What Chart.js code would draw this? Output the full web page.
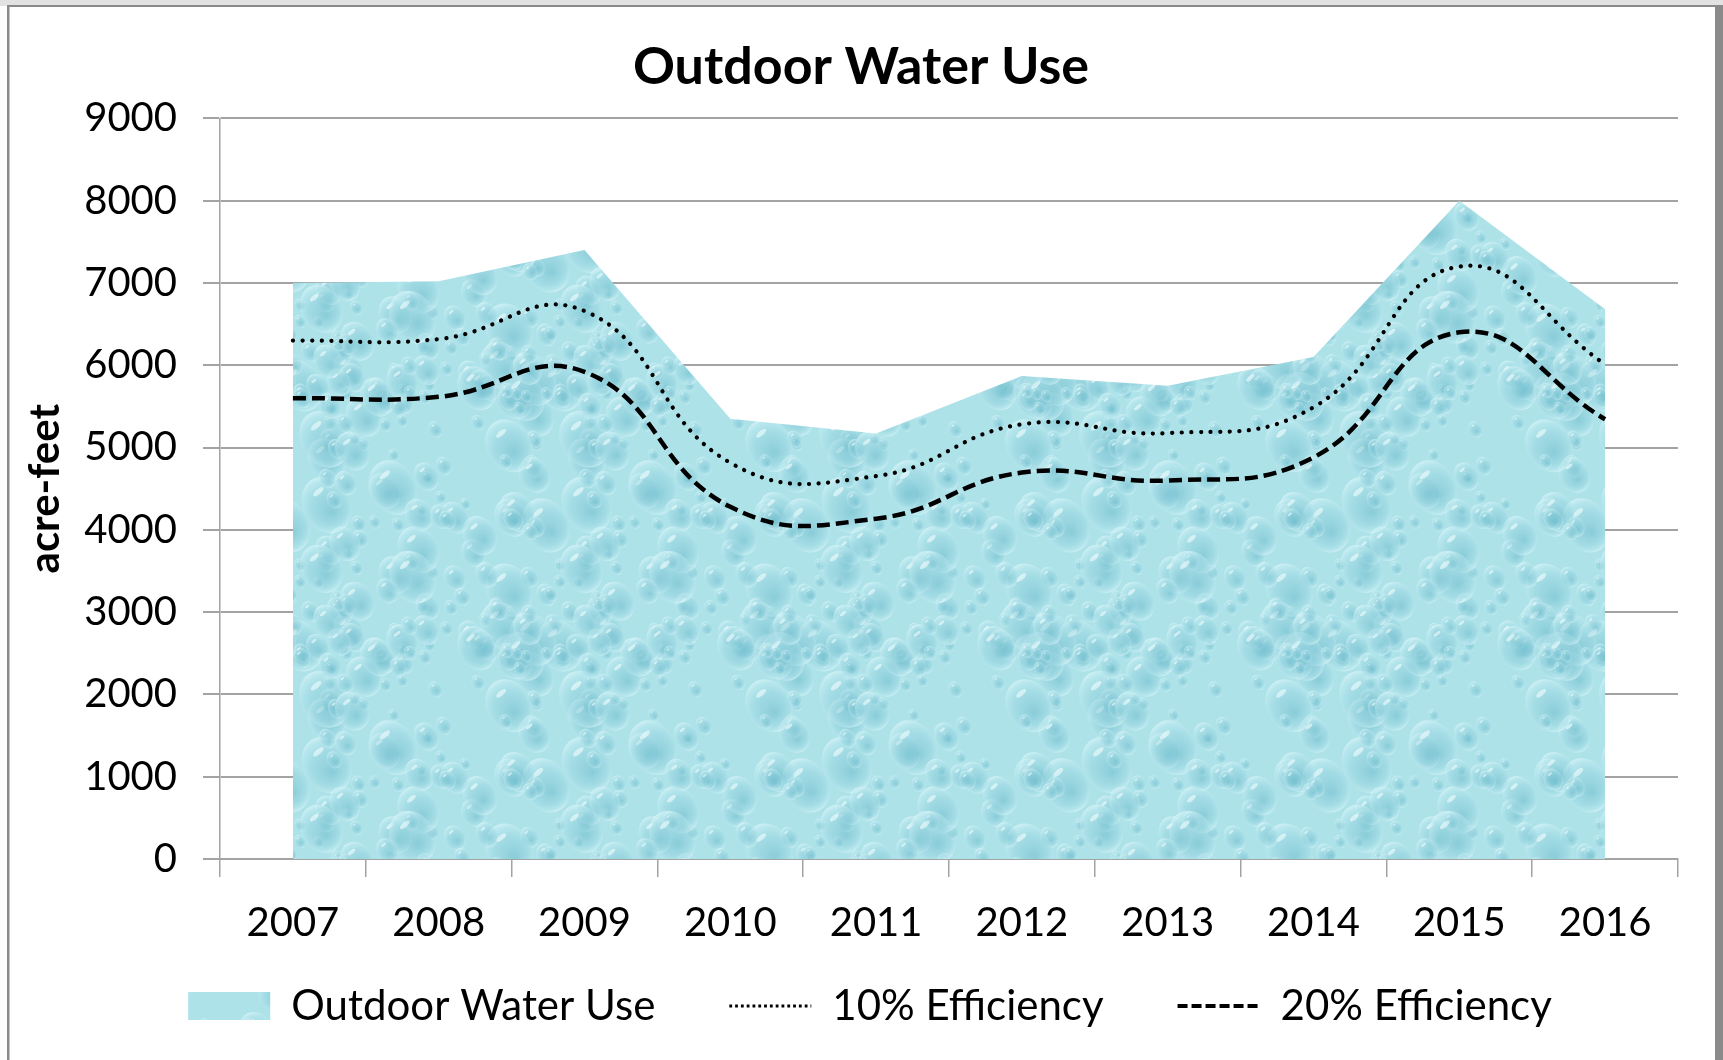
<!DOCTYPE html>
<html>
<head>
<meta charset="utf-8">
<script src="https://cdn.jsdelivr.net/npm/chart.js@4.4.1/dist/chart.umd.min.js"></script>
<style>
  html, body { margin: 0; padding: 0; background: #ffffff; }
  #wrap { width: 1723px; height: 1060px; position: relative; }
</style>
</head>
<body>
<div id="wrap"><canvas id="chart"></canvas></div>
<script>
// ---- data ----
const years = ['2007', '2008', '2009', '2010', '2011', '2012', '2013', '2014', '2015', '2016'];
const outdoorWaterUse = [7000, 7020, 7400, 5350, 5170, 5870, 5750, 6100, 8000, 6680];
const efficiency10 = [6300, 6318, 6660, 4815, 4653, 5283, 5175, 5490, 7200, 6012];
const efficiency20 = [5600, 5616, 5920, 4280, 4136, 4696, 4600, 4880, 6400, 5344];
const yTickValues = [0, 1000, 2000, 3000, 4000, 5000, 6000, 7000, 8000, 9000];
const seriesNames = ['Outdoor Water Use', '10% Efficiency', '20% Efficiency'];
const chartTitle = 'Outdoor Water Use';
const yAxisTitle = 'acre-feet';

// ---- decorative water-drop texture (fill pattern) ----
function drawDrop(g, x, y, r) {
  const grad = g.createRadialGradient(x + r * 0.2, y + r * 0.25, r * 0.05, x, y, r);
  grad.addColorStop(0, 'rgba(105,185,202,0.50)');
  grad.addColorStop(0.55, 'rgba(140,205,218,0.35)');
  grad.addColorStop(0.85, 'rgba(195,236,242,0.40)');
  grad.addColorStop(1, 'rgba(228,249,251,0.65)');
  g.fillStyle = grad;
  g.beginPath();
  g.ellipse(x, y, r * 0.8, r, -0.5, 0, Math.PI * 2);
  g.fill();
  g.fillStyle = 'rgba(242,253,254,0.6)';
  g.beginPath();
  g.ellipse(x - r * 0.28, y - r * 0.45, r * 0.22, r * 0.09, -0.7, 0, Math.PI * 2);
  g.fill();
}
function makeWaterPattern() {
  const s = 260;
  const c = document.createElement('canvas');
  c.width = s; c.height = s;
  const g = c.getContext('2d');
  g.fillStyle = '#ade2e9';
  g.fillRect(0, 0, s, s);
  let seed = 24680;
  const next = () => (seed = (seed * 16807) % 2147483647) / 2147483647;
  for (let i = 0; i < 130; i++) {
    const x = next() * s, y = next() * s, r = 6 + next() * next() * 30;
    for (const dx of [-s, 0, s]) for (const dy of [-s, 0, s]) drawDrop(g, x + dx, y + dy, r);
  }
  return g.createPattern(c, 'repeat');
}
const waterFill = makeWaterPattern();

// ---- frame / background ----
const framePlugin = {
  id: 'frame',
  beforeDraw(chart) {
    const ctx = chart.ctx, w = chart.width, h = chart.height;
    ctx.save();
    ctx.fillStyle = '#ffffff';
    ctx.fillRect(0, 0, w, h);
    ctx.fillStyle = '#e2e2e2';
    ctx.fillRect(0, 0, w, 6);
    ctx.fillStyle = '#8a8a8a';
    ctx.fillRect(7, 5, w - 7, 2);
    ctx.fillRect(7, 5, 2.5, h - 5);
    ctx.fillRect(w - 8, 5, 8, h - 5);
    ctx.restore();
  }
};

// title centred on the whole canvas; legend centred and raised a little
const boxShift = {
  id: 'boxShift',
  afterLayout(chart) {
    const t = chart.titleBlock;
    if (t) { t.left += 16; t.right += 16; }
    const lg = chart.legend;
    if (lg) { lg.top -= 33; lg.bottom -= 33; lg.left += 25; lg.right += 25; }
  }
};

const FONT = 'Lato, "Noto Sans", sans-serif';
const GRID = '#a3a3a3';

new Chart(document.getElementById('chart'), {
  type: 'line',
  data: {
    labels: years,
    datasets: [
      {
        label: seriesNames[1],
        data: efficiency10,
        borderColor: '#000000',
        borderWidth: 4.2,
        borderDash: [0.1, 9.5],
        borderCapStyle: 'round',
        tension: 0.45,
        pointRadius: 0,
        fill: false,
        order: 1
      },
      {
        label: seriesNames[2],
        data: efficiency20,
        borderColor: '#000000',
        borderWidth: 4.5,
        borderDash: [13, 6],
        tension: 0.45,
        pointRadius: 0,
        fill: false,
        order: 2
      },
      {
        label: seriesNames[0],
        data: outdoorWaterUse,
        backgroundColor: waterFill,
        borderWidth: 0,
        borderColor: 'rgba(0,0,0,0)',
        tension: 0,
        pointRadius: 0,
        fill: 'origin',
        order: 3
      }
    ]
  },
  options: {
    responsive: true,
    maintainAspectRatio: false,
    devicePixelRatio: 1,
    animation: false,
    layout: { padding: { left: 12, right: 45, top: 0, bottom: 0 } },
    plugins: {
      title: {
        display: true,
        text: chartTitle,
        color: '#000000',
        font: { family: FONT, size: 52, weight: 'bold' },
        padding: { top: 36, bottom: 20 }
      },
      legend: {
        position: 'bottom',
        maxHeight: 116,
        labels: {
          font: { family: FONT, size: 42 },
          color: '#000000',
          usePointStyle: true,
          pointStyleWidth: 82,
          boxHeight: 28,
          padding: 74,
          generateLabels() {
            return [
              { text: seriesNames[0], pointStyle: 'rect', fillStyle: waterFill, strokeStyle: 'rgba(0,0,0,0)', lineWidth: 0, datasetIndex: 2 },
              { text: seriesNames[1], pointStyle: 'line', fillStyle: 'rgba(0,0,0,0)', strokeStyle: '#000', lineWidth: 2.8, lineDash: [2.8, 3.0], datasetIndex: 0 },
              { text: seriesNames[2], pointStyle: 'line', fillStyle: 'rgba(0,0,0,0)', strokeStyle: '#000', lineWidth: 4, lineDash: [10, 4], datasetIndex: 1 }
            ];
          }
        }
      },
      tooltip: { enabled: false }
    },
    scales: {
      x: {
        type: 'category',
        offset: true,
        grid: { display: true, offset: true, drawOnChartArea: false, drawTicks: true, tickLength: 18, color: GRID, lineWidth: 1.5 },
        border: { display: true, color: GRID, width: 2 },
        ticks: { color: '#000000', font: { family: FONT, size: 40 }, padding: 22, maxRotation: 0, autoSkip: false },
        afterFit(s) { s.height = 85; }
      },
      y: {
        min: 0,
        max: 9000,
        afterBuildTicks(s) { s.ticks = yTickValues.map(v => ({ value: v })); },
        grid: { color: GRID, lineWidth: 2, tickLength: 17, drawTicks: true },
        border: { display: true, color: GRID, width: 1.5 },
        ticks: {
          color: '#000000',
          font: { family: FONT, size: 40 },
          padding: 26,
          callback: (v) => String(v)
        },
        title: {
          display: true,
          text: yAxisTitle,
          color: '#000000',
          font: { family: FONT, size: 42, weight: 'bold' },
          padding: { top: 8, bottom: 0 }
        },
        afterFit(s) { s.width = 208; }
      }
    }
  },
  plugins: [framePlugin, boxShift]
});
</script>
</body>
</html>
